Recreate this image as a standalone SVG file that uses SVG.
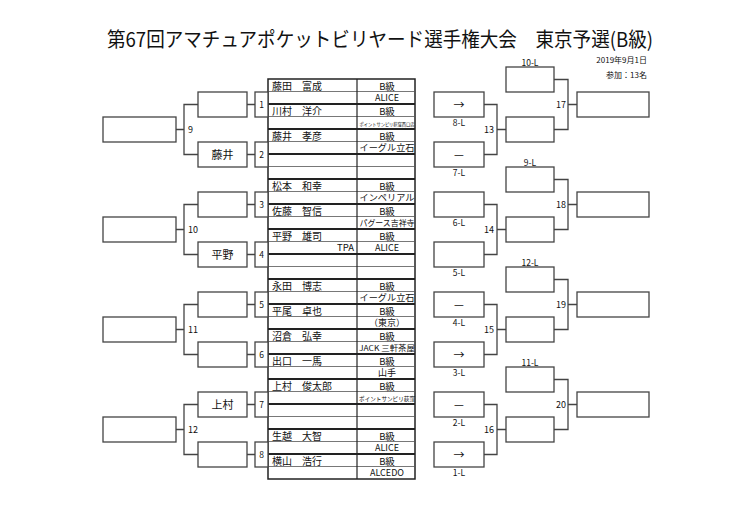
<svg xmlns="http://www.w3.org/2000/svg" width="739" height="523" viewBox="0 0 739 523">
<style>
.bg{fill:#fff}
.box{fill:#fff;stroke:#444;stroke-width:1.3}
.ln{stroke:#444;stroke-width:1.3;fill:none}
.thin{stroke:#555;stroke-width:0.8}
.thick{stroke:#222;stroke-width:1.8}
.t{font-family:"Noto Sans CJK JP","Noto Sans",sans-serif;fill:#111}
.nm{font-size:10px}
.cls{font-size:9.5px;text-anchor:middle}
.aff{font-size:9px;text-anchor:middle}
.num{font-size:8.5px;text-anchor:middle}
.lbl{font-size:8.5px;text-anchor:middle}
.rn{font-size:9px}
.bx{font-size:11px;text-anchor:middle}
</style>
<rect class="bg" x="0" y="0" width="739" height="523"/>
<text class="t" x="380" y="47" font-size="20" text-anchor="middle" textLength="546" lengthAdjust="spacingAndGlyphs">第67回アマチュアポケットビリヤード選手権大会　東京予選(B級)</text>
<g id="info" class="t" font-size="8" text-anchor="end">
<text x="647" y="63">2019年9月1日</text>
<text x="647" y="78">参加：13名</text>
</g>

<g id="connectors" class="ln">
<path d="M247 104.5H255M247 154.5H255M247 204.5H255M247 254.5H255M247 304.5H255M247 354.5H255M247 404.5H255M247 454.5H255"/>
<path d="M198 104.5H184V154.5H198M184 129.5H176"/>
<path d="M198 204.5H184V254.5H198M184 229.5H176"/>
<path d="M198 304.5H184V354.5H198M184 329.5H176"/>
<path d="M198 404.5H184V454.5H198M184 429.5H176"/>
<path d="M484 104.5H497V154.5H484M497 129.5H506"/>
<path d="M484 204.5H497V254.5H484M497 229.5H506"/>
<path d="M484 304.5H497V354.5H484M497 329.5H506"/>
<path d="M484 404.5H497V454.5H484M497 429.5H506"/>
<path d="M554 79.5H568V129.5H554M568 104.5H577"/>
<path d="M554 179.5H568V229.5H554M568 204.5H577"/>
<path d="M554 279.5H568V329.5H554M568 304.5H577"/>
<path d="M554 379.5H568V429.5H554M568 404.5H577"/>
</g>

<g id="entry-table">
<rect x="268" y="79" width="147" height="400" fill="#fff" stroke="#222" stroke-width="1.5"/>
<g class="thin">
<path d="M268 91.5H415M268 116.5H415M268 141.5H415M268 166.5H415M268 191.5H415M268 216.5H415M268 241.5H415M268 266.5H415M268 291.5H415M268 316.5H415M268 341.5H415M268 366.5H415M268 391.5H415M268 416.5H415M268 441.5H415M268 466.5H415"/>
</g>
<g class="thick">
<path d="M268 104H415M268 129H415M268 154H415M268 179H415M268 204H415M268 229H415M268 254H415M268 279H415M268 304H415M268 329H415M268 354H415M268 379H415M268 404H415M268 429H415M268 454H415"/>
</g>
<path d="M357 79V479" stroke="#222" stroke-width="1.2"/>
<g class="t nm">
<text x="272" y="89.5">藤田　富成</text>
<text x="272" y="114.5">川村　洋介</text>
<text x="272" y="139.5">藤井　孝彦</text>
<text x="272" y="189.5">松本　和幸</text>
<text x="272" y="214.5">佐藤　智信</text>
<text x="272" y="239.5">平野　雄司</text>
<text x="272" y="289.5">永田　博志</text>
<text x="272" y="314.5">平尾　卓也</text>
<text x="272" y="339.5">沼倉　弘幸</text>
<text x="272" y="364.5">出口　一馬</text>
<text x="272" y="389.5">上村　俊太郎</text>
<text x="272" y="439.5">生越　大智</text>
<text x="272" y="464.5">横山　浩行</text>
</g>
<g class="t cls">
<text x="387" y="89.5">B級</text>
<text x="387" y="114.5">B級</text>
<text x="387" y="139.5">B級</text>
<text x="387" y="189.5">B級</text>
<text x="387" y="214.5">B級</text>
<text x="387" y="239.5">B級</text>
<text x="387" y="289.5">B級</text>
<text x="387" y="314.5">B級</text>
<text x="387" y="339.5">B級</text>
<text x="387" y="364.5">B級</text>
<text x="387" y="389.5">B級</text>
<text x="387" y="439.5">B級</text>
<text x="387" y="464.5">B級</text>
</g>
<g class="t aff">
<text x="387" y="101">ALICE</text>
<text x="387" y="125.5" font-size="5" textLength="55" lengthAdjust="spacingAndGlyphs">ポイントサンピリ荻窪西口店</text>
<text x="387" y="151" textLength="55" lengthAdjust="spacingAndGlyphs">イーグル立石</text>
<text x="387" y="201" textLength="55" lengthAdjust="spacingAndGlyphs">インペリアル</text>
<text x="387" y="226" font-size="8.5" textLength="55" lengthAdjust="spacingAndGlyphs">パグース吉祥寺</text>
<text x="387" y="251">ALICE</text>
<text x="387" y="301" textLength="55" lengthAdjust="spacingAndGlyphs">イーグル立石</text>
<text x="387" y="326">（東京）</text>
<text x="387" y="351" font-size="7.5" textLength="56" lengthAdjust="spacingAndGlyphs">JACK 三軒茶屋</text>
<text x="387" y="376">山手</text>
<text x="387" y="400.5" font-size="6" textLength="56" lengthAdjust="spacingAndGlyphs">ポイントサンピリ荻窪</text>
<text x="387" y="451">ALICE</text>
<text x="387" y="476">ALCEDO</text>
</g>
<text class="t" x="354" y="251" font-size="9.5" text-anchor="end">TPA</text>
</g>

<g id="m1"><rect class="box" x="198" y="92" width="49" height="25"/><rect class="box" x="255" y="92" width="13" height="25"/><text class="t num" x="261.5" y="107.5">1</text></g>
<g id="m2"><rect class="box" x="198" y="142" width="49" height="25"/><text class="t bx" x="222.5" y="158.5">藤井</text><rect class="box" x="255" y="142" width="13" height="25"/><text class="t num" x="261.5" y="157.5">2</text></g>
<g id="m3"><rect class="box" x="198" y="192" width="49" height="25"/><rect class="box" x="255" y="192" width="13" height="25"/><text class="t num" x="261.5" y="207.5">3</text></g>
<g id="m4"><rect class="box" x="198" y="242" width="49" height="25"/><text class="t bx" x="222.5" y="258.5">平野</text><rect class="box" x="255" y="242" width="13" height="25"/><text class="t num" x="261.5" y="257.5">4</text></g>
<g id="m5"><rect class="box" x="198" y="292" width="49" height="25"/><rect class="box" x="255" y="292" width="13" height="25"/><text class="t num" x="261.5" y="307.5">5</text></g>
<g id="m6"><rect class="box" x="198" y="342" width="49" height="25"/><rect class="box" x="255" y="342" width="13" height="25"/><text class="t num" x="261.5" y="357.5">6</text></g>
<g id="m7"><rect class="box" x="198" y="392" width="49" height="25"/><text class="t bx" x="222.5" y="408.5">上村</text><rect class="box" x="255" y="392" width="13" height="25"/><text class="t num" x="261.5" y="407.5">7</text></g>
<g id="m8"><rect class="box" x="198" y="442" width="49" height="25"/><rect class="box" x="255" y="442" width="13" height="25"/><text class="t num" x="261.5" y="457.5">8</text></g>

<g id="m9"><rect class="box" x="103" y="117" width="73" height="25"/><text class="t rn" x="188" y="132.5">9</text></g>
<g id="m10"><rect class="box" x="103" y="217" width="73" height="25"/><text class="t rn" x="188" y="232.5">10</text></g>
<g id="m11"><rect class="box" x="103" y="317" width="73" height="25"/><text class="t rn" x="188" y="332.5">11</text></g>
<g id="m12"><rect class="box" x="103" y="417" width="73" height="25"/><text class="t rn" x="188" y="432.5">12</text></g>

<g id="l8"><rect class="box" x="434" y="92" width="50" height="25"/><text class="t bx" x="459" y="108.5">→</text><text class="t lbl" x="459" y="125.5">8-L</text></g>
<g id="l7"><rect class="box" x="434" y="142" width="50" height="25"/><text class="t bx" x="459" y="158.5">—</text><text class="t lbl" x="459" y="175.5">7-L</text></g>
<g id="l6"><rect class="box" x="434" y="192" width="50" height="25"/><text class="t lbl" x="459" y="225.5">6-L</text></g>
<g id="l5"><rect class="box" x="434" y="242" width="50" height="25"/><text class="t lbl" x="459" y="275.5">5-L</text></g>
<g id="l4"><rect class="box" x="434" y="292" width="50" height="25"/><text class="t bx" x="459" y="308.5">—</text><text class="t lbl" x="459" y="325.5">4-L</text></g>
<g id="l3"><rect class="box" x="434" y="342" width="50" height="25"/><text class="t bx" x="459" y="358.5">→</text><text class="t lbl" x="459" y="375.5">3-L</text></g>
<g id="l2"><rect class="box" x="434" y="392" width="50" height="25"/><text class="t bx" x="459" y="408.5">—</text><text class="t lbl" x="459" y="425.5">2-L</text></g>
<g id="l1"><rect class="box" x="434" y="442" width="50" height="25"/><text class="t bx" x="459" y="458.5">→</text><text class="t lbl" x="459" y="475.5">1-L</text></g>

<g id="m13"><rect class="box" x="506" y="117" width="48" height="25"/><text class="t rn" x="494" y="132.5" text-anchor="end">13</text></g>
<g id="m14"><rect class="box" x="506" y="217" width="48" height="25"/><text class="t rn" x="494" y="232.5" text-anchor="end">14</text></g>
<g id="m15"><rect class="box" x="506" y="317" width="48" height="25"/><text class="t rn" x="494" y="332.5" text-anchor="end">15</text></g>
<g id="m16"><rect class="box" x="506" y="417" width="48" height="25"/><text class="t rn" x="494" y="432.5" text-anchor="end">16</text></g>
<g id="l10"><rect class="box" x="506" y="67" width="48" height="25"/><text class="t lbl" x="530" y="65.5">10-L</text></g>
<g id="l9"><rect class="box" x="506" y="167" width="48" height="25"/><text class="t lbl" x="530" y="165.5">9-L</text></g>
<g id="l12"><rect class="box" x="506" y="267" width="48" height="25"/><text class="t lbl" x="530" y="265.5">12-L</text></g>
<g id="l11"><rect class="box" x="506" y="367" width="48" height="25"/><text class="t lbl" x="530" y="365.5">11-L</text></g>

<g id="m17"><rect class="box" x="577" y="92" width="72" height="25"/><text class="t rn" x="566" y="107.5" text-anchor="end">17</text></g>
<g id="m18"><rect class="box" x="577" y="192" width="72" height="25"/><text class="t rn" x="566" y="207.5" text-anchor="end">18</text></g>
<g id="m19"><rect class="box" x="577" y="292" width="72" height="25"/><text class="t rn" x="566" y="307.5" text-anchor="end">19</text></g>
<g id="m20"><rect class="box" x="577" y="392" width="72" height="25"/><text class="t rn" x="566" y="407.5" text-anchor="end">20</text></g>
</svg>
